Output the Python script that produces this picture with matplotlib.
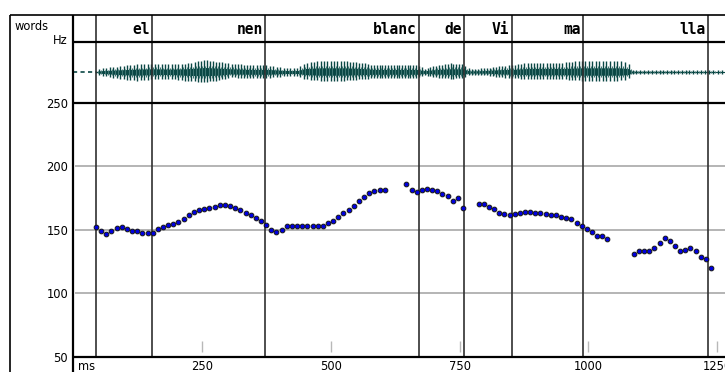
import numpy as np
import matplotlib
matplotlib.use("Agg")
import matplotlib.pyplot as plt
from matplotlib.lines import Line2D

# ---- word tier -------------------------------------------------------------
words = ["", "el", "nen", "blanc", "de", "Vi", "ma", "lla"]
word_bounds = [0, 45, 154, 373, 671, 759, 851, 989, 1231]

# ---- pitch track (Hz), 10 ms frames, four voiced stretches ------------------
pitch1_start = 45
pitch1_hz = [152.5, 148.8, 147.0, 148.8, 151.4, 152.5, 150.4, 149.0, 149.0, 147.8,
             147.8, 147.8, 150.4, 152.5, 153.5, 154.3, 156.1, 158.8, 161.6, 164.0,
             165.3, 166.1, 167.4, 168.2, 169.2, 169.4, 168.7, 167.4, 165.8, 163.5,
             161.5, 159.0, 156.9, 154.1, 149.6, 148.3, 149.6, 153.0, 153.0, 153.0,
             153.0, 153.0, 153.0, 153.0, 153.0, 155.6, 157.2, 160.3, 163.5, 165.3,
             169.0, 172.3, 176.0, 179.1, 180.2, 181.0, 181.2]
pitch2_start = 647
pitch2_hz = [186.2, 181.2, 179.9, 181.0, 182.3, 181.2, 180.2, 178.4, 176.3, 172.9,
             175.2, 167.1]
pitch3_start = 787
pitch3_hz = [170.5, 170.5, 168.2, 166.1, 163.5, 162.1, 161.4, 162.1, 163.5, 164.2,
             164.2, 163.5, 163.5, 162.7, 161.4, 161.4, 160.3, 159.2, 158.2, 155.1,
             153.0, 150.9, 148.3, 145.1, 145.1, 143.1]
pitch4_start = 1088
pitch4_hz = [131.0, 133.4, 133.4, 133.4, 135.3, 139.2, 143.3, 141.5, 137.3, 133.1,
             134.4, 135.3, 133.4, 128.2, 127.1, 120.3]
frame_ms = 10

# ---- waveform envelope (fraction of panel half height) ----------------------
env_t = [0, 45, 53, 92, 125, 156, 189, 221, 256, 285, 305, 344, 379, 412, 437, 450,
         479, 528, 561, 586, 634, 667, 683, 702, 732, 757, 770, 803, 828, 854, 887,
         955, 984, 1061, 1077, 1085, 1178, 1265]
env_top = [0.02, 0.03, 0.11, 0.19, 0.25, 0.28, 0.25, 0.28, 0.39, 0.33, 0.28, 0.22,
           0.22, 0.13, 0.13, 0.30, 0.36, 0.36, 0.30, 0.22, 0.22, 0.22, 0.11, 0.20,
           0.28, 0.27, 0.09, 0.13, 0.20, 0.23, 0.31, 0.31, 0.36, 0.36, 0.30, 0.07,
           0.06, 0.05]
env_bot = [0.02, 0.03, 0.11, 0.23, 0.28, 0.23, 0.22, 0.29, 0.33, 0.27, 0.17, 0.20,
           0.20, 0.13, 0.13, 0.23, 0.28, 0.28, 0.23, 0.20, 0.20, 0.20, 0.11, 0.17,
           0.22, 0.20, 0.09, 0.10, 0.17, 0.20, 0.24, 0.24, 0.28, 0.28, 0.23, 0.07,
           0.05, 0.05]

x_ticks = [250, 500, 750, 1000, 1250]
y_ticks = [50, 100, 150, 200, 250]
y_grid = [100, 150, 200]

# ---- layout (pixels) ---------------------------------------------------------
W, H = 725, 372
X0, PX_PER_MS = 72.8, 0.5156
T_MAX = (W - X0) / PX_PER_MS
Y_TOP, Y_WORDS, Y_WAVE, Y_AXIS = 15, 41.5, 102.5, 357

fig = plt.figure(figsize=(W / 100, H / 100), dpi=100)
fig.patch.set_facecolor("white")


def rect(top, bottom):
    return [X0 / W, 1 - bottom / H, (W - X0) / W, (bottom - top) / H]


ax_w = fig.add_axes(rect(Y_TOP, Y_WORDS))
ax_s = fig.add_axes(rect(Y_WORDS, Y_WAVE))
ax_p = fig.add_axes(rect(Y_WAVE, Y_AXIS))

for ax in (ax_w, ax_s, ax_p):
    ax.set_xlim(0, T_MAX)
    for sp in ax.spines.values():
        sp.set_visible(False)
    ax.tick_params(length=0)
    ax.set_xticks([])
    ax.set_yticks([])
    ax.set_facecolor("none")

BOUND_COLOR = "#303030"

# words
ax_w.set_ylim(0, 1)
for i, w in enumerate(words):
    if w:
        ax_w.text(word_bounds[i + 1] - 4, 0.44, w, ha="right", va="center",
                  family="DejaVu Sans Mono", fontweight="bold", fontsize=10.5,
                  color="black")
for b in word_bounds[1:]:
    for ax in (ax_w, ax_s, ax_p):
        ax.axvline(b, color=BOUND_COLOR, lw=1.2, zorder=3)

# waveform drawn as glottal pulses spaced by the pitch period
pitch_t = np.concatenate([
    pitch1_start + frame_ms * np.arange(len(pitch1_hz)),
    pitch2_start + frame_ms * np.arange(len(pitch2_hz)),
    pitch3_start + frame_ms * np.arange(len(pitch3_hz)),
    pitch4_start + frame_ms * np.arange(len(pitch4_hz)),
])
pitch_hz = np.concatenate([pitch1_hz, pitch2_hz, pitch3_hz, pitch4_hz])

WAVE = "#0a4744"
ax_s.set_ylim(-1, 1)
pulses = []
t = word_bounds[1]
while t < T_MAX:
    pulses.append(t)
    t += 1000.0 / np.interp(t, pitch_t, pitch_hz)
pulses = np.array(pulses)
mids = pulses[:-1] + np.diff(pulses) / 2

tt = np.linspace(word_bounds[1], T_MAX, 1500)
top = np.interp(tt, env_t, env_top)
bot = np.interp(tt, env_t, env_bot)
ax_s.fill_between(tt, -0.38 * bot, 0.38 * top, color=WAVE, lw=0, zorder=2)
ax_s.vlines(pulses, -np.interp(pulses, env_t, env_bot),
            np.interp(pulses, env_t, env_top), color=WAVE, lw=1.0, zorder=2)
ax_s.vlines(mids, -0.6 * np.interp(mids, env_t, env_bot),
            0.55 * np.interp(mids, env_t, env_top), color="#3f7572", lw=0.8, zorder=2)
ax_s.plot([0, word_bounds[1]], [0, 0], color=WAVE, lw=1.2, ls=(0, (2.5, 2)), zorder=2)

# pitch panel
ax_p.set_ylim(50, 250)
for g in y_grid:
    ax_p.axhline(g, xmin=3.5 / (W - X0), color="#b4b4b4", lw=1.4, zorder=1)
ax_p.vlines(x_ticks, 0.018, 0.062, transform=ax_p.get_xaxis_transform(),
            color="#b8b8b8", lw=1.0, zorder=1)
ax_p.set_xticks(x_ticks)
ax_p.set_xticklabels([str(v) for v in x_ticks])
ax_p.set_yticks(y_ticks)
ax_p.set_yticklabels([str(v) for v in y_ticks])
ax_p.tick_params(axis="x", length=0, pad=2.5, labelsize=8.3)
ax_p.tick_params(axis="y", length=0, pad=3.3, labelsize=8.3)
for lab in ax_p.get_xticklabels() + ax_p.get_yticklabels():
    lab.set_family("DejaVu Sans")

segments = [(pitch1_start, pitch1_hz), (pitch2_start, pitch2_hz),
            (pitch3_start, pitch3_hz), (pitch4_start, pitch4_hz)]
for start, hz in segments:
    ts = start + frame_ms * np.arange(len(hz))
    ax_p.plot(ts, hz, ls="none", marker="o", ms=3.4, mfc="#0000e0",
              mec="#151515", mew=0.7, zorder=4, clip_on=False)

# frame lines
def fig_line(xs, ys, lw):
    fig.add_artist(Line2D([x / W for x in xs], [1 - y / H for y in ys],
                          transform=fig.transFigure, color="black", lw=lw,
                          solid_capstyle="butt", zorder=10))


fig_line([10, W], [Y_TOP, Y_TOP], 1.2)
fig_line([10, 10], [Y_TOP, H], 1.2)
fig_line([X0, X0], [Y_TOP, H], 1.6)
fig_line([X0, W], [Y_WORDS, Y_WORDS], 1.6)
fig_line([X0, W], [Y_WAVE, Y_WAVE], 1.6)
fig_line([X0, W], [Y_AXIS, Y_AXIS], 1.6)

fig.text(15 / W, 1 - 26 / H, "words", ha="left", va="center", fontsize=8.3,
         family="DejaVu Sans")
fig.text(68 / W, 1 - 40 / H, "Hz", ha="right", va="center", fontsize=8.3,
         family="DejaVu Sans")
fig.text(78 / W, 1 - 366 / H, "ms", ha="left", va="center", fontsize=8.3,
         family="DejaVu Sans")

fig.savefig("out.png", dpi=100, facecolor="white")
